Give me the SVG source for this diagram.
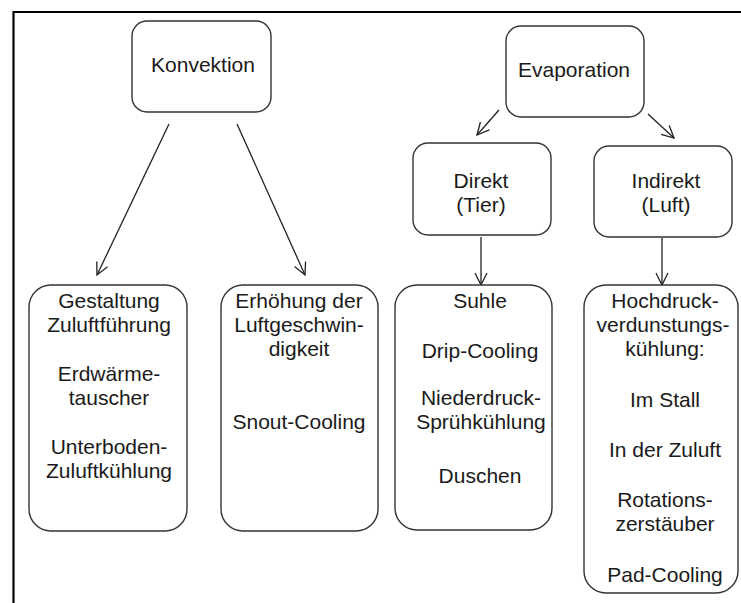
<svg xmlns="http://www.w3.org/2000/svg" width="741" height="603" viewBox="0 0 741 603">
<style>
.box{fill:#fff;stroke:#333;stroke-width:1.4}
.t{font-family:"Liberation Sans",Arial,sans-serif;font-size:21px;fill:#1a1a1a;text-anchor:middle}
.c{stroke:#222;stroke-width:1.3;fill:none}
</style>
<defs>
<marker id="arr" viewBox="0 0 14 14" refX="13" refY="7" markerWidth="14" markerHeight="14" markerUnits="userSpaceOnUse" orient="auto">
<path d="M1,1 L13,7 L1,13" fill="none" stroke="#222" stroke-width="1.3"/>
</marker>
</defs>
<rect width="741" height="603" fill="#fff"/>
<path d="M13.5,603 V12 H741" fill="none" stroke="#000" stroke-width="2.2"/>
<g id="connectors">
<line class="c" x1="169" y1="124" x2="97" y2="275" marker-end="url(#arr)"/>
<line class="c" x1="237" y1="124" x2="305" y2="275" marker-end="url(#arr)"/>
<line class="c" x1="499" y1="110" x2="477" y2="135" marker-end="url(#arr)"/>
<line class="c" x1="648" y1="114" x2="674" y2="138" marker-end="url(#arr)"/>
<line class="c" x1="481" y1="237" x2="481" y2="285" marker-end="url(#arr)"/>
<line class="c" x1="662" y1="238" x2="662" y2="285" marker-end="url(#arr)"/>
</g>
<g id="konvektion">
<rect class="box" x="132" y="21" width="139" height="91" rx="15"/>
<text class="t" x="203" y="72">Konvektion</text>
</g>
<g id="evaporation">
<rect class="box" x="506" y="26" width="138" height="91" rx="15"/>
<text class="t" x="574" y="77">Evaporation</text>
</g>
<g id="direkt">
<rect class="box" x="413" y="143" width="138" height="92" rx="15"/>
<text class="t" x="481" y="188">Direkt</text>
<text class="t" x="481" y="212">(Tier)</text>
</g>
<g id="indirekt">
<rect class="box" x="594" y="146" width="138" height="91" rx="15"/>
<text class="t" x="666" y="188">Indirekt</text>
<text class="t" x="666" y="212">(Luft)</text>
</g>
<g id="zuluft">
<rect class="box" x="29" y="285" width="158" height="246" rx="22"/>
<text class="t" x="109" y="308">Gestaltung</text>
<text class="t" x="109" y="332">Zuluftführung</text>
<text class="t" x="109" y="381">Erdwärme-</text>
<text class="t" x="109" y="405">tauscher</text>
<text class="t" x="109" y="454">Unterboden-</text>
<text class="t" x="109" y="478">Zuluftkühlung</text>
</g>
<g id="luftgeschwindigkeit">
<rect class="box" x="221" y="285" width="157" height="246" rx="22"/>
<text class="t" x="299" y="308">Erhöhung der</text>
<text class="t" x="299" y="332">Luftgeschwin-</text>
<text class="t" x="299" y="356">digkeit</text>
<text class="t" x="299" y="429">Snout-Cooling</text>
</g>
<g id="direkt-list">
<rect class="box" x="395" y="285" width="157" height="245" rx="22"/>
<text class="t" x="480" y="308">Suhle</text>
<text class="t" x="480" y="358">Drip-Cooling</text>
<text class="t" x="481" y="405">Niederdruck-</text>
<text class="t" x="481" y="429">Sprühkühlung</text>
<text class="t" x="480" y="483">Duschen</text>
</g>
<g id="indirekt-list">
<rect class="box" x="584" y="285" width="154" height="308" rx="22"/>
<text class="t" x="665" y="308">Hochdruck-</text>
<text class="t" x="663" y="332">verdunstungs-</text>
<text class="t" x="665" y="356">kühlung:</text>
<text class="t" x="665" y="407">Im Stall</text>
<text class="t" x="665" y="457">In der Zuluft</text>
<text class="t" x="665" y="507">Rotations-</text>
<text class="t" x="665" y="531">zerstäuber</text>
<text class="t" x="665" y="582">Pad-Cooling</text>
</g>
</svg>
